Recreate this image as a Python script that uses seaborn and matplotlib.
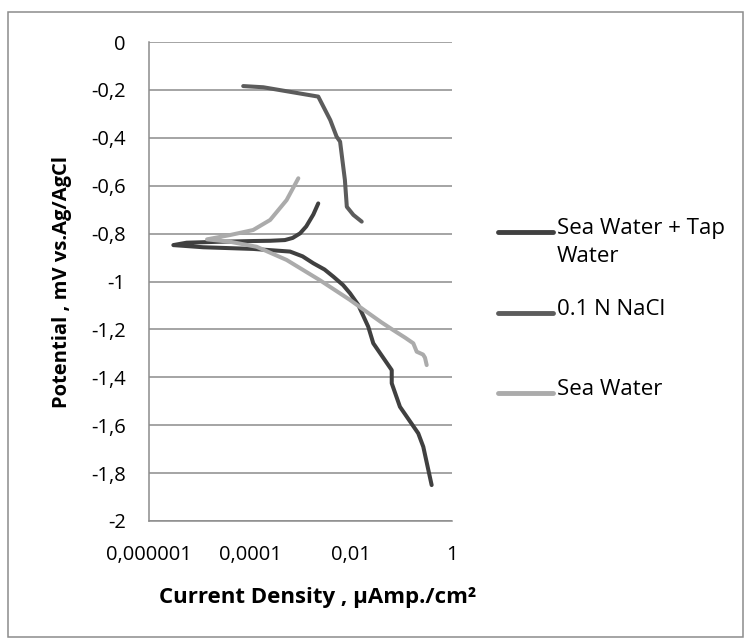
import numpy as np
import pandas as pd
import seaborn as sns
import matplotlib
matplotlib.use("Agg")
import matplotlib.pyplot as plt
from matplotlib.ticker import FixedLocator, FixedFormatter, NullLocator
from matplotlib.patches import Rectangle
from matplotlib.lines import Line2D

# ---- data ----
series_names = ["Sea Water + Tap\nWater", "0.1 N NaCl", "Sea Water"]
series_colors = ["#404040", "#5c5c5c", "#ababab"]

swtw_current = [2.25e-3, 1.8e-3, 1.3e-3, 9.8e-4, 7.0e-4, 4.9e-4, 2.5e-4, 1.15e-4,
                2.5e-5, 5.5e-6, 3.0e-6, 1.17e-5, 1.15e-4, 6.2e-4, 1.1e-3, 1.8e-3,
                3.0e-3, 4.5e-3, 7.0e-3, 9.6e-3, 0.014, 0.0221, 0.0278, 0.0646,
                0.0646, 0.094, 0.128, 0.217, 0.273, 0.40]
swtw_potential = [-0.674, -0.72, -0.77, -0.799, -0.818, -0.827, -0.830, -0.831,
                  -0.834, -0.838, -0.848, -0.857, -0.864, -0.875, -0.895, -0.924,
                  -0.95, -0.98, -1.015, -1.049, -1.098, -1.189, -1.258, -1.37,
                  -1.425, -1.523, -1.564, -1.634, -1.69, -1.85]

nacl_current = [7.3e-5, 1.83e-4, 6.2e-4, 2.25e-3, 3.9e-3, 5.2e-3, 6.1e-3, 7.6e-3,
                8.3e-3, 0.0112, 0.0164]
nacl_potential = [-0.184, -0.189, -0.208, -0.228, -0.326, -0.395, -0.416, -0.576,
                  -0.688, -0.722, -0.750]

sw_current = [9.06e-4, 5.3e-4, 2.5e-4, 1.15e-4, 4.0e-5, 1.4e-5, 4.0e-5, 1.35e-4,
              5.3e-4, 2.4e-3, 9.6e-3, 0.02, 0.04, 0.0693, 0.12, 0.173, 0.202,
              0.27, 0.295, 0.319]
sw_potential = [-0.569, -0.66, -0.743, -0.785, -0.806, -0.824, -0.834, -0.855,
                -0.91, -0.994, -1.077, -1.125, -1.17, -1.203, -1.235, -1.258,
                -1.293, -1.305, -1.318, -1.349]

x_ticks = [1e-6, 1e-4, 1e-2, 1]
x_tick_labels = ["0,000001", "0,0001", "0,01", "1"]
y_ticks = [0, -0.2, -0.4, -0.6, -0.8, -1.0, -1.2, -1.4, -1.6, -1.8, -2.0]
y_tick_labels = ["0", "-0,2", "-0,4", "-0,6", "-0,8", "-1", "-1,2", "-1,4", "-1,6", "-1,8", "-2"]

x_title = "Current Density , µAmp./cm²"
y_title = "Potential , mV vs.Ag/AgCl"

# ---- build long-form table ----
frames = []
for name, xs, ys in [(series_names[0], swtw_current, swtw_potential),
                     (series_names[1], nacl_current, nacl_potential),
                     (series_names[2], sw_current, sw_potential)]:
    frames.append(pd.DataFrame({"current": xs, "potential": ys, "series": name}))
df = pd.concat(frames, ignore_index=True)

sns.set_theme(style="white")
plt.rcParams["font.family"] = ["Open Sans", "DejaVu Sans"]

W, H = 751, 640
fig = plt.figure(figsize=(W / 100, H / 100), dpi=100)
ax_l, ax_r, ax_t, ax_b = 149.3, 451.7, 42, 521
ax = fig.add_axes([ax_l / W, 1 - ax_b / H, (ax_r - ax_l) / W, (ax_b - ax_t) / H])

ax.set_xscale("log")
for name, color in zip(series_names, series_colors):
    sub = df[df["series"] == name]
    sns.lineplot(data=sub, x="current", y="potential", sort=False, estimator=None,
                 color=color, lw=2.9, ax=ax, legend=False,
                 solid_capstyle="round", solid_joinstyle="round")

ax.set_xlim(1e-6, 1)
ax.set_ylim(-2, 0)
ax.xaxis.set_major_locator(FixedLocator(x_ticks))
ax.xaxis.set_major_formatter(FixedFormatter(x_tick_labels))
ax.xaxis.set_minor_locator(NullLocator())
ax.yaxis.set_major_locator(FixedLocator(y_ticks))
ax.yaxis.set_major_formatter(FixedFormatter(y_tick_labels))
ax.tick_params(axis="both", length=0, pad=17, labelsize=14.5, labelcolor="black")

ax.yaxis.grid(True, color="#8c8c8c", lw=1.1)
ax.xaxis.grid(False)
ax.set_axisbelow(True)
for s in ["top", "right"]:
    ax.spines[s].set_visible(False)
for s in ["left", "bottom"]:
    ax.spines[s].set_color("#8c8c8c")
    ax.spines[s].set_linewidth(1.1)

ax.set_xlabel(x_title, fontsize=16, fontweight="bold", color="black")
ax.set_ylabel(y_title, fontsize=14.5, fontweight="bold", color="black")
ax.xaxis.set_label_coords((318 - ax_l) / (ax_r - ax_l), -(597 - ax_b) / (ax_b - ax_t))
ax.yaxis.set_label_coords(-(ax_l - 62) / (ax_r - ax_l), 0.5)
ax.xaxis.label.set_va("center")
ax.yaxis.label.set_va("center")

# ---- legend (Excel style: marker aligned with first text line) ----
leg_y = [232, 312.6, 393]
for name, color, yy in zip(series_names, series_colors, leg_y):
    fig.add_artist(Line2D([498 / W, 553 / W], [1 - yy / H, 1 - yy / H],
                          transform=fig.transFigure, color=color, lw=3.5,
                          solid_capstyle="round"))
    first_line_top = yy - 14
    fig.text(557 / W, 1 - first_line_top / H, name, fontsize=16, color="black",
             ha="left", va="top", linespacing=1.45)

fig.add_artist(Rectangle((8 / W, 1 - 637 / H), (743 - 8) / W, (637 - 12) / H,
                         transform=fig.transFigure, fill=False, edgecolor="#8c8c8c", lw=1.1))

fig.savefig("out.png", dpi=100, facecolor="white")
